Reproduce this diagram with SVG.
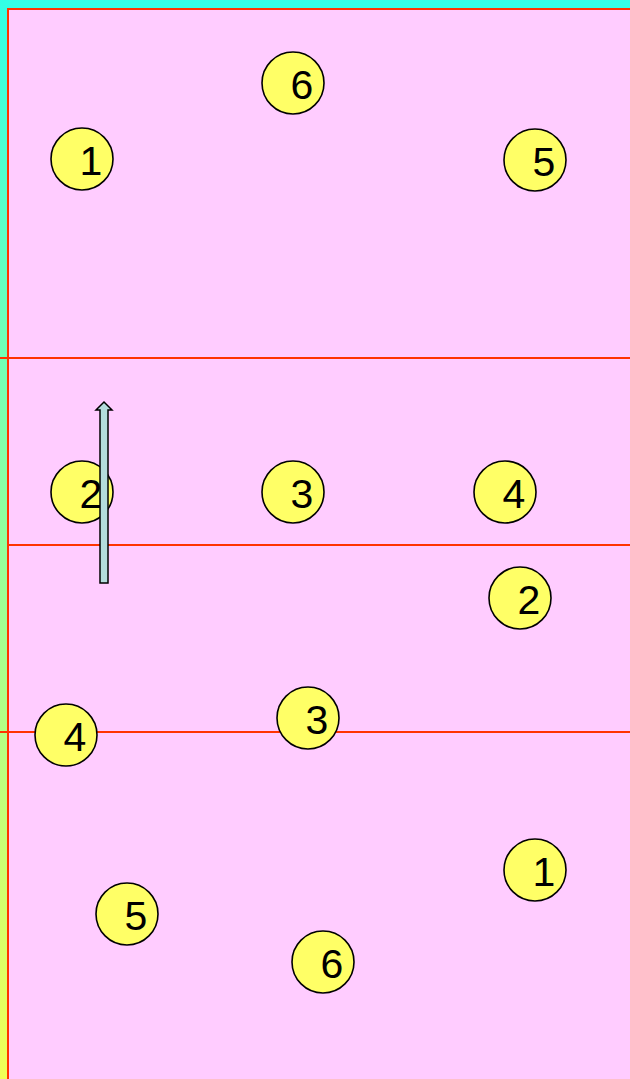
<svg xmlns="http://www.w3.org/2000/svg" width="630" height="1079" viewBox="0 0 630 1079">
<defs>
<linearGradient id="bg" x1="0" y1="0" x2="0" y2="1">
<stop offset="0" stop-color="#33FFE6"/>
<stop offset="1" stop-color="#F2FF55"/>
</linearGradient>
<style>
.p circle{fill:#FFFF66;stroke:#000;stroke-width:1.6}
.p text{font-family:"Liberation Sans",Arial,sans-serif;font-size:41px;fill:#000;text-anchor:middle}
.ln{stroke:#FF3300;stroke-width:2;fill:none}
</style>
</defs>
<rect width="630" height="1079" fill="url(#bg)"/>
<rect x="8" y="9" width="630" height="1080" fill="#FFCCFF" stroke="#FF3300" stroke-width="2"/>
<g id="lines">
<line class="ln" x1="0" y1="358" x2="630" y2="358"/>
<line class="ln" x1="7" y1="545" x2="630" y2="545"/>
<line class="ln" x1="0" y1="732" x2="630" y2="732"/>
</g>
<g id="p1a" class="p"><circle cx="82" cy="159" r="31"/><text x="91" y="175">1</text></g>
<g id="p6a" class="p"><circle cx="293" cy="83" r="31"/><text x="302" y="99">6</text></g>
<g id="p5a" class="p"><circle cx="535" cy="160" r="31"/><text x="544" y="176">5</text></g>
<g id="p2a" class="p"><circle cx="82" cy="492" r="31"/><text x="91" y="508">2</text></g>
<g id="p3a" class="p"><circle cx="293" cy="492" r="31"/><text x="302" y="508">3</text></g>
<g id="p4a" class="p"><circle cx="505" cy="492" r="31"/><text x="514" y="508">4</text></g>
<g id="p2b" class="p"><circle cx="520" cy="598" r="31"/><text x="529" y="614">2</text></g>
<g id="p3b" class="p"><circle cx="308" cy="718" r="31"/><text x="317" y="734">3</text></g>
<g id="p4b" class="p"><circle cx="66" cy="735" r="31"/><text x="75" y="751">4</text></g>
<g id="p1b" class="p"><circle cx="535" cy="870" r="31"/><text x="544" y="886">1</text></g>
<g id="p5b" class="p"><circle cx="127" cy="914" r="31"/><text x="136" y="930">5</text></g>
<g id="p6b" class="p"><circle cx="323" cy="962" r="31"/><text x="332" y="978">6</text></g>
<g id="connectors">
<path d="M100,583 L100,410 L96,410 L104,402 L112,410 L108,410 L108,583 Z" fill="#B4DCDC" stroke="#000" stroke-width="1.5"/>
</g>
</svg>
